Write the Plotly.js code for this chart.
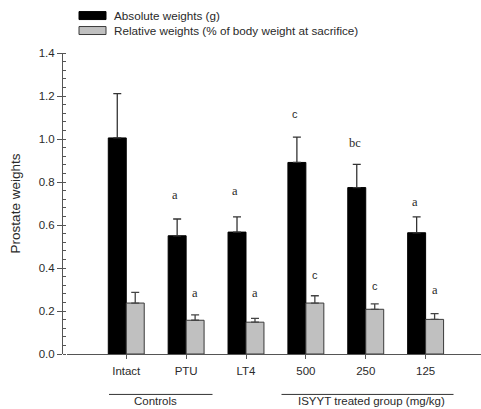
<!DOCTYPE html>
<html>
<head>
<meta charset="utf-8">
<script src="https://cdn.plot.ly/plotly-3.0.1.min.js"></script>
<style>html,body{margin:0;padding:0;background:#fff;overflow:hidden;}#chart{width:481px;height:409px;overflow:hidden;}</style>
</head>
<body>
<div id="chart"></div>
<script>
// ---- data ----
const categories = ["Intact", "PTU", "LT4", "500", "250", "125"];
const absoluteWeights = [1.005, 0.550, 0.567, 0.891, 0.774, 0.564];
const absoluteUpper   = [1.211, 0.628, 0.638, 1.009, 0.882, 0.638];
const relativeWeights = [0.237, 0.157, 0.148, 0.237, 0.208, 0.161];
const relativeUpper   = [0.287, 0.182, 0.166, 0.271, 0.233, 0.188];
const absoluteLetters = ["", "a", "a", "c", "bc", "a"];
const relativeLetters = ["", "a", "a", "c", "c", "a"];
const yTickVals = [0.0, 0.2, 0.4, 0.6, 0.8, 1.0, 1.2, 1.4];
const yTickText = ["0.0", "0.2", "0.4", "0.6", "0.8", "1.0", "1.2", "1.4"];
const groupLabels = ["Controls", "ISYYT treated group (mg/kg)"];
const legendNames = ["Absolute weights (g)", "Relative weights (% of body weight at sacrifice)"];

// ---- layout helpers (pixel -> paper) ----
const L = 62, R = 0, T = 53, B = 54.5;
const W = 481, H = 409;
const pw = W - L - R, ph = H - T - B;
const px = v => (v - L) / pw;
const py = v => (H - B - v) / ph;

const FONT = "Liberation Sans, Arial, sans-serif";
const SERIF = "Liberation Serif, Times New Roman, serif";
const TXT = "#2a2a2a";

const traces = [
  {
    type: "bar", x: categories, y: absoluteWeights, name: legendNames[0],
    marker: {color: "#000000", line: {color: "#000000", width: 1}},
    error_y: {type: "data", symmetric: false,
      array: absoluteUpper.map((u, i) => u - absoluteWeights[i]),
      arrayminus: absoluteWeights.map(() => 0),
      color: "#333333", thickness: 1.3, width: 4},
    showlegend: false, hoverinfo: "skip"
  },
  {
    type: "bar", x: categories, y: relativeWeights, name: legendNames[1],
    marker: {color: "#c0c0c0", line: {color: "#3a3a3a", width: 1}},
    error_y: {type: "data", symmetric: false,
      array: relativeUpper.map((u, i) => u - relativeWeights[i]),
      arrayminus: relativeWeights.map(() => 0),
      color: "#444444", thickness: 1.3, width: 4},
    showlegend: false, hoverinfo: "skip"
  }
];

const annotations = [];
const absLetterY = [0, 0.740, 0.758, 1.114, 0.980, 0.707];
const relLetterY = [0, 0.285, 0.285, 0.366, 0.315, 0.298];
categories.forEach((c, i) => {
  if (absoluteLetters[i]) {
    const serif = absoluteLetters[i] !== "c";
    annotations.push({x: i - 0.18, y: absLetterY[i], xref: "x", yref: "y", text: absoluteLetters[i],
      showarrow: false, font: {family: serif ? SERIF : FONT, size: serif ? 12.5 : 11, color: TXT}});
  }
  if (relativeLetters[i]) {
    const serif = relativeLetters[i] !== "c";
    annotations.push({x: i + 0.15, y: relLetterY[i], xref: "x", yref: "y", text: relativeLetters[i],
      showarrow: false, font: {family: serif ? SERIF : FONT, size: serif ? 12.5 : 11, color: TXT}});
  }
});

// legend text
annotations.push({x: px(111.5), y: py(15.5), xref: "paper", yref: "paper", xanchor: "left", yanchor: "middle",
  text: legendNames[0], showarrow: false, font: {family: FONT, size: 11.7, color: TXT}});
annotations.push({x: px(111.5), y: py(30.5), xref: "paper", yref: "paper", xanchor: "left", yanchor: "middle",
  text: legendNames[1], showarrow: false, font: {family: FONT, size: 11.7, color: TXT}});

// group labels
annotations.push({x: px(155), y: py(401.5), xref: "paper", yref: "paper", xanchor: "center", yanchor: "middle",
  text: groupLabels[0], showarrow: false, font: {family: FONT, size: 11.5, color: TXT}});
annotations.push({x: px(371.5), y: py(401.5), xref: "paper", yref: "paper", xanchor: "center", yanchor: "middle",
  text: groupLabels[1], showarrow: false, font: {family: FONT, size: 11.5, color: TXT}});

const shapes = [
  {type: "rect", xref: "paper", yref: "paper", x0: px(79), x1: px(106), y0: py(19.5), y1: py(11.5),
    fillcolor: "#000000", line: {color: "#000000", width: 1}},
  {type: "rect", xref: "paper", yref: "paper", x0: px(79), x1: px(106), y0: py(34.5), y1: py(26.5),
    fillcolor: "#c0c0c0", line: {color: "#3a3a3a", width: 1}},
  {type: "line", xref: "paper", yref: "paper", x0: px(109), x1: px(212.5), y0: py(395), y1: py(395),
    line: {color: "#333333", width: 1}},
  {type: "line", xref: "paper", yref: "paper", x0: px(281.5), x1: px(453.5), y0: py(395), y1: py(395),
    line: {color: "#333333", width: 1}}
];

const layout = {
  width: W, height: H,
  margin: {l: L, r: R, t: T, b: B, pad: 0},
  paper_bgcolor: "#ffffff", plot_bgcolor: "#ffffff",
  barmode: "group", bargap: 0.4, bargroupgap: 0,
  showlegend: false,
  font: {family: FONT, size: 11, color: TXT},
  xaxis: {
    type: "category", range: [-0.998, 5.925], domain: [px(66.5), 1],
    showline: true, linecolor: "#555555", linewidth: 1.2,
    ticks: "outside", ticklen: 4, tickcolor: "#555555", tickwidth: 1,
    ticklabelstandoff: 2,
    showgrid: false, zeroline: false, fixedrange: true,
    tickfont: {family: FONT, size: 11.5, color: TXT}, automargin: false
  },
  yaxis: {
    range: [0, 1.4], anchor: "free", position: 0,
    showline: true, linecolor: "#555555", linewidth: 1.2,
    tickvals: yTickVals, ticktext: yTickText,
    ticks: "outside", ticklen: 5, tickcolor: "#555555", tickwidth: 1,
    minor: {dtick: 0.04, tick0: 0, ticks: "inside", ticklen: 3, tickcolor: "#555555", tickwidth: 1, showgrid: false},
    showgrid: false, zeroline: false, fixedrange: true,
    tickfont: {family: FONT, size: 11.5, color: TXT}, automargin: false,
    title: {text: "Prostate weights", standoff: 13, font: {family: FONT, size: 13.5, color: TXT}}
  },
  annotations: annotations,
  shapes: shapes
};

Plotly.newPlot("chart", traces, layout, {displayModeBar: false, staticPlot: true});
</script>
</body>
</html>
